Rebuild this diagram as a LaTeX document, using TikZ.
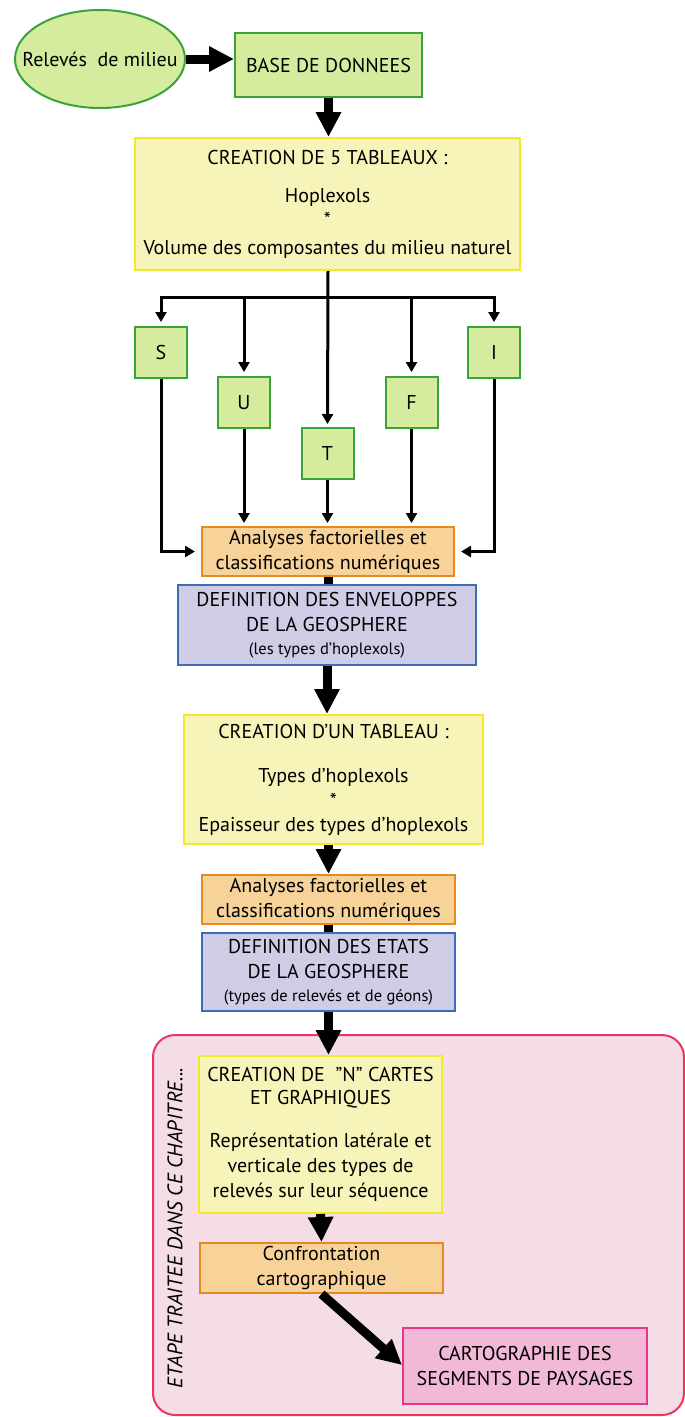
\documentclass[tikz,border=0pt]{standalone}
\usepackage{fontspec}
\setmainfont{PT Sans}
\usetikzlibrary{arrows.meta,shapes.geometric}
\definecolor{gfill}{HTML}{D5EC9F}
\definecolor{gline}{HTML}{3AA33A}
\definecolor{yfill}{HTML}{F6F4B9}
\definecolor{yline}{HTML}{F2E92A}
\definecolor{ofill}{HTML}{F7D39A}
\definecolor{oline}{HTML}{E8891F}
\definecolor{bfill}{HTML}{CFCCE6}
\definecolor{bline}{HTML}{3D6CB8}
\definecolor{rfill}{HTML}{F5DDE8}
\definecolor{rline}{HTML}{E8365E}
\definecolor{pfill}{HTML}{F2B9D6}
\definecolor{pline}{HTML}{E8348C}
\newcommand{\smalltxt}{\fontsize{16.5}{22}\selectfont}
\newcommand{\qq}{\symbol{34}}
\newcommand{\ap}{\symbol{39}}
\begin{document}
\begin{tikzpicture}[x=1pt,y=-1pt,
  box/.style={draw, line width=2pt, inner sep=0pt, align=center, font=\fontsize{20}{25}\selectfont},
  gbox/.style={box, draw=gline, fill=gfill},
  ybox/.style={box, draw=yline, fill=yfill},
  obox/.style={box, draw=oline, fill=ofill},
  bbox/.style={box, draw=bline, fill=bfill},
  pbox/.style={box, draw=pline, fill=pfill},
  letter/.style={gbox, minimum width=52pt, minimum height=51pt},
  bigarrow/.style={line width=9pt, -{Triangle[length=25pt,width=24pt]}},
  bigline/.style={line width=9pt},
  smallarrow/.style={line width=3pt, -{Triangle[length=10pt,width=11pt]}}
]
\useasboundingbox (0,0) rectangle (685,1417);
% background region
\filldraw[fill=rfill, draw=rline, line width=2pt, rounded corners=22pt] (153,1035) rectangle (684,1415);
\node[rotate=90, font=\fontsize{21}{24}\selectfont\itshape] (etape) at (175,1228) {ETAPE TRAITEE DANS CE CHAPITRE...};

% nodes
\node[ellipse, gbox, minimum width=170pt, minimum height=98pt] (rel) at (100,59) {\makebox[0pt]{Relevés~~de milieu}};
\node[gbox, minimum width=187pt, minimum height=64pt] (base) at (328.5,65) {BASE DE DONNEES};
\node[ybox, minimum width=385pt, minimum height=132pt] (tab5) at (327.5,204)
  {\rule{0pt}{8pt}CREATION DE 5 TABLEAUX :\\[13pt] Hoplexols\\[-1pt] *\\[3pt] Volume des composantes du milieu naturel};
\node[letter] (S) at (161,352.5) {S};
\node[letter] (U) at (244,402.5) {U};
\node[letter] (T) at (327.5,453.5) {T};
\node[letter] (F) at (411.5,402.5) {F};
\node[letter] (I) at (494,352.5) {I};
\node[obox, minimum width=252pt, minimum height=49pt] (an1) at (328,551.5)
  {Analyses factorielles et\\ classifications numériques};
\node[bbox, minimum width=298pt, minimum height=80pt] (env) at (327,625)
  {DEFINITION DES ENVELOPPES\\ DE LA GEOSPHERE\\[-2pt] {\smalltxt (les types d\ap hoplexols)}};
\node[ybox, minimum width=299pt, minimum height=129pt] (tab1) at (333.5,779.5)
  {CREATION D\ap UN TABLEAU :\\[19pt] Types d\ap hoplexols\\[0pt] *\\[-1pt] Epaisseur des types d\ap hoplexols};
\node[obox, minimum width=253pt, minimum height=49pt] (an2) at (328.5,899.5)
  {Analyses factorielles et\\ classifications numériques};
\node[bbox, minimum width=253pt, minimum height=78pt] (etats) at (328.5,972)
  {DEFINITION DES ETATS\\ DE LA GEOSPHERE\\[-2pt] {\smalltxt (types de relevés et de géons)}};
\node[ybox, minimum width=243pt, minimum height=157pt] (ncartes) at (320.5,1134.5)
  {CREATION DE~~\qq N\qq{} CARTES\\[-2pt] ET GRAPHIQUES\\[18pt] Représentation latérale et\\ verticale des types de\\ relevés sur leur séquence};
\node[obox, minimum width=243pt, minimum height=50pt] (conf) at (321.5,1268)
  {Confrontation\\ cartographique};
\node[pbox, minimum width=244pt, minimum height=76pt] (carto) at (525,1366)
  {CARTOGRAPHIE DES\\ SEGMENTS DE PAYSAGES};

% connectors
\draw[bigarrow] (rel.east) -- (base.west |- rel.east);
\draw[bigarrow] (base.south) -- (base.south |- tab5.north);
\coordinate (bar) at (328,297);
\draw[smallarrow, shorten >=3pt] (tab5.south -| bar) -- (T.north);
\draw[smallarrow, shorten >=4pt] (bar) -| (S.north);
\draw[smallarrow, shorten >=4pt] (bar) -| (U.north);
\draw[smallarrow, shorten >=4pt] (bar) -| (F.north);
\draw[smallarrow, shorten >=4pt] (bar) -| (I.north);
\draw[smallarrow, shorten >=3pt] (U.south) -- (U.south |- an1.north);
\draw[smallarrow, shorten >=3pt] (T.south) -- (T.south |- an1.north);
\draw[smallarrow, shorten >=3pt] (F.south) -- (F.south |- an1.north);
\draw[smallarrow, shorten >=6pt] (S.south) |- (an1.west);
\draw[smallarrow, shorten >=6pt] (I.south) |- (an1.east);
\draw[bigline] (an1.south) -- (an1.south |- env.north);
\draw[bigarrow] (env.south) -- (env.south |- tab1.north);
\draw[bigarrow] (tab1.south -| an2.south) -- (an2.north);
\draw[bigline] (an2.south) -- (etats.north);
\draw[bigarrow] (etats.south) -- (etats.south |- ncartes.north);
\draw[bigarrow] (ncartes.south) -- (conf.north);
\draw[bigarrow] (conf.south) -- (carto.west |- 0,1365);
\end{tikzpicture}
\end{document}
